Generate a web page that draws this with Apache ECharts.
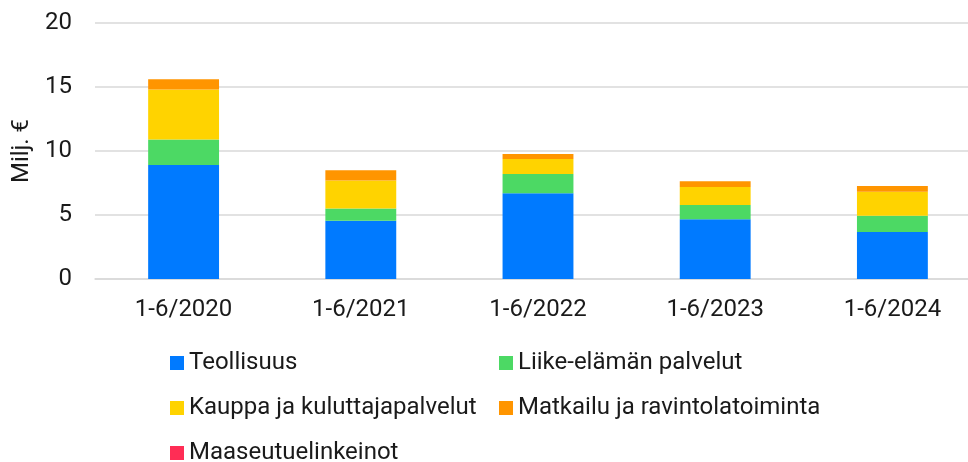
<!DOCTYPE html>
<html>
<head>
<meta charset="utf-8">
<script src="https://cdn.jsdelivr.net/npm/echarts@6/dist/echarts.min.js"></script>
<style>
  html, body { margin: 0; padding: 0; background: #fff; }
  #chart { width: 968px; height: 462px; }
</style>
</head>
<body>
<div id="chart"></div>
<script>
var categories = ['1-6/2020', '1-6/2021', '1-6/2022', '1-6/2023', '1-6/2024']
var teollisuus = [8.9, 4.55, 6.7, 4.66, 3.67]
var liike = [2.0, 0.95, 1.5, 1.12, 1.28]
var kauppa = [3.9, 2.2, 1.17, 1.41, 1.87]
var matkailu = [0.8, 0.8, 0.4, 0.44, 0.45]
var maaseutu = [0, 0, 0, 0, 0]
var yTicks = [0, 5, 10, 15, 20]

var textColor = '#1a1a1a'
var font = 'Roboto'
var fontSize = 24

function bar(name, data, color) {
  return {
    name: name,
    type: 'bar',
    stack: 'total',
    barWidth: '40%',
    itemStyle: { color: color },
    data: data
  }
}

// one legend per entry so the two columns line up like the original
function legendItem(name, left, top) {
  return {
    left: left,
    top: top,
    padding: 0,
    icon: 'rect',
    itemWidth: 14,
    itemHeight: 14,
    textStyle: { fontSize: fontSize, color: textColor, fontFamily: font },
    data: [name]
  }
}

var chart = echarts.init(document.getElementById('chart'))
chart.setOption({
  backgroundColor: '#fff',
  animation: false,
  textStyle: { fontFamily: font },
  grid: {
    left: 95,
    top: 23,
    width: 886,
    height: 256,
    outerBoundsMode: 'none'
  },
  legend: [
    legendItem('Teollisuus', 170, 351),
    legendItem('Liike-elämän palvelut', 499, 351),
    legendItem('Kauppa ja kuluttajapalvelut', 170, 396),
    legendItem('Matkailu ja ravintolatoiminta', 499, 396),
    legendItem('Maaseutuelinkeinot', 170, 441)
  ],
  xAxis: {
    type: 'category',
    data: categories,
    axisLine: { lineStyle: { color: '#d9d9d9', width: 1.5 } },
    axisTick: { show: false },
    axisLabel: { fontSize: fontSize, color: textColor, margin: 19, fontFamily: font }
  },
  yAxis: {
    type: 'value',
    min: yTicks[0],
    max: yTicks[yTicks.length - 1],
    interval: yTicks[1] - yTicks[0],
    name: 'Milj. €',
    nameLocation: 'middle',
    nameRotate: 90,
    nameGap: 60,
    nameTextStyle: { fontSize: fontSize, color: textColor, fontFamily: font },
    axisLine: { show: false },
    axisTick: { show: false },
    axisLabel: { fontSize: fontSize, color: textColor, margin: 23, fontFamily: font },
    splitLine: { lineStyle: { color: '#d9d9d9', width: 1.5 } }
  },
  series: [
    bar('Teollisuus', teollisuus, '#007AFF'),
    bar('Liike-elämän palvelut', liike, '#4CD964'),
    bar('Kauppa ja kuluttajapalvelut', kauppa, '#FFD300'),
    bar('Matkailu ja ravintolatoiminta', matkailu, '#FF9500'),
    bar('Maaseutuelinkeinot', maaseutu, '#FF2D55')
  ]
})
</script>
</body>
</html>
